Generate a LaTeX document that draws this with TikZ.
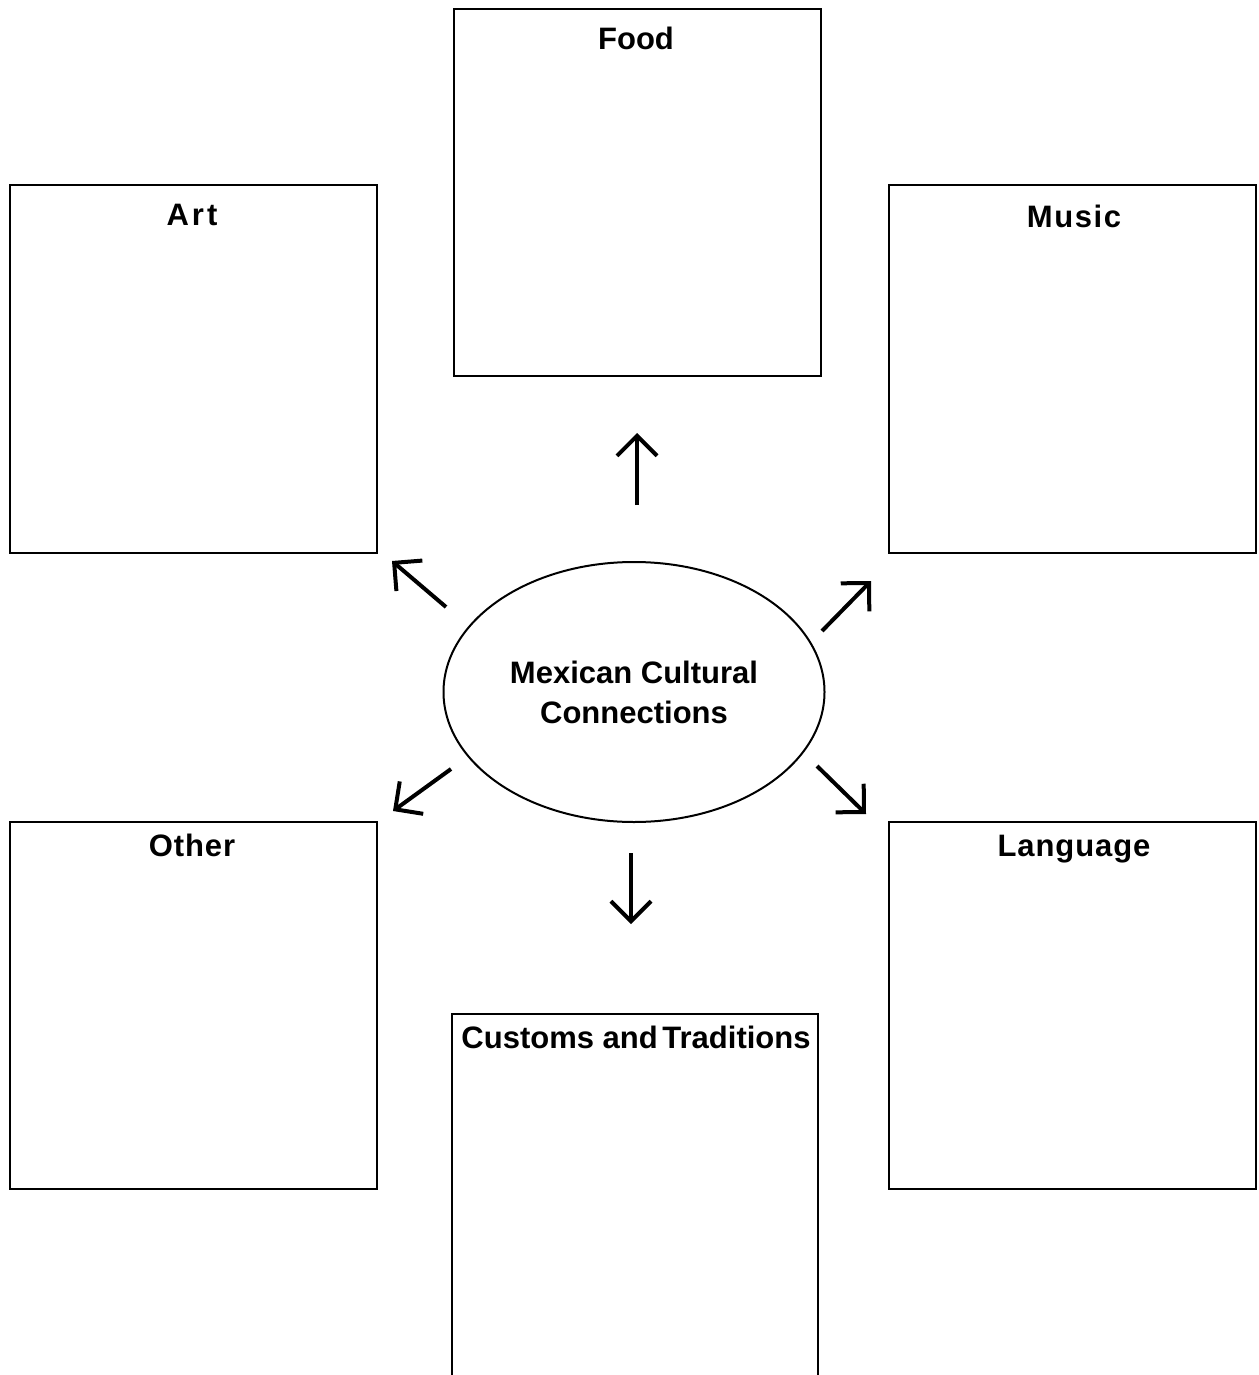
\documentclass[tikz,border=0pt]{standalone}
\usepackage{fontspec}
\setmainfont{Liberation Sans}
\usetikzlibrary{shapes.geometric,arrows.meta}
\begin{document}
\begin{tikzpicture}[x=1pt,y=-1pt,
  box/.style={draw,line width=2pt,rectangle,minimum width=367pt,minimum height=367pt,inner sep=0pt},
  lbl/.style={font=\fontsize{31}{37}\selectfont\bfseries,inner sep=0pt,anchor=base},
  conn/.style={line width=4pt,-{Straight Barb[length=20pt,width=40pt,line width=4pt]}},
  oval/.style={draw,line width=2pt,ellipse,minimum width=381pt,minimum height=260pt,inner sep=0pt,align=center,font=\fontsize{31}{40}\selectfont\bfseries}]
\clip (0,0) rectangle (1258,1375);
\fill[white] (0,0) rectangle (1258,1375);
% boxes
\node[box] (food) at (637.5,192.5) {};
\node[box] (art) at (193.5,369) {};
\node[box] (music) at (1072.5,369) {};
\node[box] (other) at (193.5,1005) {};
\node[box] (lang) at (1072.5,1005) {};
\node[box,minimum width=366pt,minimum height=420pt] (cust) at (635,1224) {};
% labels
\node[lbl] (foodt) at (636,50) {Food};
\node[lbl] (artt) at (192,225) {\addfontfeature{LetterSpace=10}Art};
\node[lbl] (musict) at (1074,227) {\addfontfeature{LetterSpace=5}Music};
\node[lbl] (othert) at (192,856) {\addfontfeature{LetterSpace=3}Other};
\node[lbl] (langt) at (1074,856) {\addfontfeature{LetterSpace=3}Language};
\node[lbl] (custt) at (636,1048) {Customs and\hspace{-4pt} Traditions};
% center
\node[oval] (center) at (634,692) {Mexican Cultural\\Connections};
% arrow ends
\coordinate (a1s) at (637,505); \coordinate (a1e) at (637,433);
\coordinate (a2s) at (446,607); \coordinate (a2e) at (392,561);
\coordinate (a3s) at (822,631); \coordinate (a3e) at (871,581);
\coordinate (a4s) at (451,769); \coordinate (a4e) at (393,811);
\coordinate (a5s) at (817,766); \coordinate (a5e) at (866,814);
\coordinate (a6s) at (631,853); \coordinate (a6e) at (631,924);
\draw[conn] (a1s) -- (a1e);
\draw[conn] (a2s) -- (a2e);
\draw[conn] (a3s) -- (a3e);
\draw[conn] (a4s) -- (a4e);
\draw[conn] (a5s) -- (a5e);
\draw[conn] (a6s) -- (a6e);
\end{tikzpicture}
\end{document}
